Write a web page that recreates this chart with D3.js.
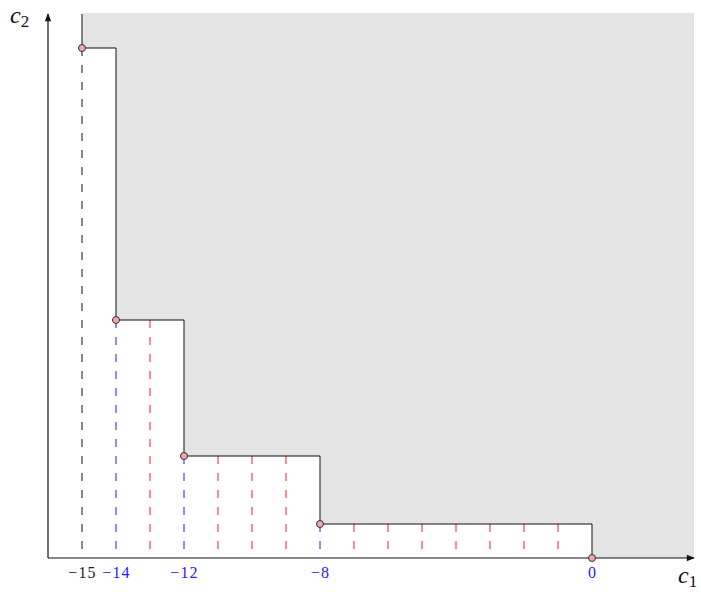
<!DOCTYPE html>
<html>
<head>
<meta charset="utf-8">
<script src="https://cdn.jsdelivr.net/npm/d3@7"></script>
<style>
  body { margin: 0; background: #fff; }
</style>
</head>
<body>
<div id="canvas"></div>
<script>
// staircase corner points (c1, c2)
var pointC1 = [-15, -14, -12, -8, 0];
var pointC2 = [15, 7, 3, 1, 0];
// dashed verticals
var blackC1 = [-15];
var blueC1 = [-14, -12, -8];
var redC1 = [-13, -11, -10, -9, -7, -6, -5, -4, -3, -2, -1];
// tick labels on c1 axis
var tickC1 = [-15, -14, -12, -8, 0];
var tickColor = ['#222', '#2222ff', '#2222ff', '#2222ff', '#2222ff'];

var serif = '"Liberation Serif", "Times New Roman", "DejaVu Serif", serif';

var W = 701, H = 592;
var x = d3.scaleLinear().domain([-16, 3]).range([48, 694]);
var y = d3.scaleLinear().domain([0, 16]).range([558, 14]);

var svg = d3.select('#canvas').append('svg')
    .attr('width', W).attr('height', H);

var pts = pointC1.map(function(d, i){ return {c1: d, c2: pointC2[i]}; });

// height of staircase at a given c1
function stepAt(c){
  var h = pts[0].c2;
  pts.forEach(function(p){ if (p.c1 <= c) h = p.c2; });
  return h;
}

// grey feasible region
var areaPts = [{c1: -15, c2: 15}].concat(pts.slice(1)).concat([{c1: 3, c2: 0}]);
var area = d3.area()
    .curve(d3.curveStepAfter)
    .x(function(d){ return x(d.c1); })
    .y0(y(16.03))
    .y1(function(d){ return y(d.c2); });
svg.append('path').datum(areaPts)
    .attr('d', area)
    .attr('fill', '#e4e4e4');

// dashed lines
function dashes(list, color){
  svg.selectAll(null).data(list).enter().append('line')
    .attr('x1', function(d){ return x(d); })
    .attr('x2', function(d){ return x(d); })
    .attr('y1', function(d){ return y(stepAt(d)); })
    .attr('y2', y(0))
    .attr('stroke', color)
    .attr('stroke-width', 1)
    .attr('stroke-dasharray', '8,9');
}
dashes(blackC1, '#111');
dashes(blueC1, '#1a1aff');
dashes(redC1, '#ff1a1a');

// staircase
var line = d3.line()
    .curve(d3.curveStepAfter)
    .x(function(d){ return x(d.c1); })
    .y(function(d){ return y(d.c2); });
svg.append('path')
    .datum([{c1: -15, c2: 16}].concat(pts))
    .attr('d', line)
    .attr('fill', 'none')
    .attr('stroke', '#111')
    .attr('stroke-width', 1);

// arrow marker
svg.append('defs').append('marker')
    .attr('id', 'arr')
    .attr('viewBox', '0 0 10 10')
    .attr('refX', 9).attr('refY', 5)
    .attr('markerWidth', 10).attr('markerHeight', 8)
    .attr('markerUnits', 'userSpaceOnUse')
    .attr('orient', 'auto')
    .append('path').attr('d', 'M0,1 L10,5 L0,9 Z').attr('fill', '#111');

// axes
var axisX = d3.axisBottom(x).tickValues(tickC1).tickSize(0).tickPadding(9);
var gx = svg.append('g').attr('transform', 'translate(0,' + y(0) + ')').call(axisX);
gx.attr('font-family', serif).attr('font-size', 16);
gx.select('.domain').remove();
gx.selectAll('text')
    .style('font-family', serif)
    .style('font-size', '16px')
    .style('letter-spacing', '1.2px')
    .attr('fill', function(d, i){ return tickColor[i]; });

svg.append('line')
    .attr('x1', x(-16)).attr('y1', y(0))
    .attr('x2', x(3)).attr('y2', y(0))
    .attr('stroke', '#111').attr('stroke-width', 1.2)
    .attr('marker-end', 'url(#arr)');
svg.append('line')
    .attr('x1', x(-16)).attr('y1', y(0))
    .attr('x2', x(-16)).attr('y2', y(16))
    .attr('stroke', '#111').attr('stroke-width', 1.2)
    .attr('marker-end', 'url(#arr)');

// points
svg.selectAll('circle').data(pts).enter().append('circle')
    .attr('cx', function(d){ return x(d.c1); })
    .attr('cy', function(d){ return y(d.c2); })
    .attr('r', 3.5)
    .attr('fill', '#f4a6a6')
    .attr('stroke', '#333')
    .attr('stroke-width', 1);

// axis labels
function axisLabel(tx, ty, sub){
  var t = svg.append('text').attr('x', tx).attr('y', ty)
      .style('font-family', serif)
      .attr('font-size', 24).attr('font-style', 'italic').attr('fill', '#111');
  t.append('tspan').text('c');
  t.append('tspan').attr('dy', 4).attr('font-size', 17).attr('font-style', 'normal').text(sub);
}
axisLabel(10, 23, '2');
axisLabel(678, 583, '1');
</script>
</body>
</html>
